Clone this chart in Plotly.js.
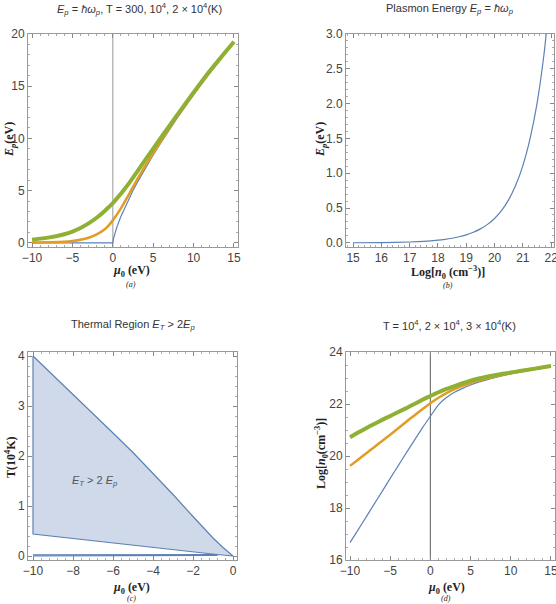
<!DOCTYPE html>
<html>
<head>
<meta charset="utf-8">
<script src="https://cdn.plot.ly/plotly-3.0.1.min.js"></script>
<style>
  html, body { margin: 0; padding: 0; background: #fff; }
  #chart { width: 556px; height: 604px; }
</style>
</head>
<body>
<div id="chart"></div>
<script>
// (a) Ep vs mu0 for three temperatures
const muA = [-10, -8, -6, -5, -4, -3, -2, -1, -0.5, 0, 0.1, 0.25, 0.5, 1, 1.5, 2, 2.5, 3, 4, 5, 6, 7, 8, 10, 12, 15];
const epT300 = [0, 0, 0, 0, 0, 0, 0, 0, 0, 0, 0.45, 0.89, 1.5, 2.52, 3.41, 4.24, 5.01, 5.74, 7.12, 8.42, 9.65, 10.84, 11.98, 14.17, 16.24, 19.2];
const epT1e4 = [0.02, 0.05, 0.1, 0.17, 0.29, 0.48, 0.8, 1.3, 1.68, 2.15, 2.26, 2.42, 2.7, 3.3, 3.97, 4.65, 5.35, 6.05, 7.35, 8.6, 9.8, 10.98, 12.12, 14.3, 16.35, 19.2];
const epT2e4 = [0.3, 0.5, 0.82, 1.08, 1.42, 1.86, 2.4, 3.05, 3.42, 3.8, 3.89, 4.02, 4.25, 4.7, 5.2, 5.7, 6.25, 6.8, 7.92, 9.02, 10.12, 11.2, 12.28, 14.4, 16.45, 19.25];

// (b) Ep vs log n0
const logN = [15, 16, 17, 17.5, 18, 18.25, 18.5, 18.75, 19, 19.25, 19.5, 19.75, 20, 20.25, 20.5, 20.75, 21, 21.25, 21.5, 21.75, 21.85];
const epN = [0.0012, 0.0038, 0.012, 0.021, 0.038, 0.05, 0.066, 0.087, 0.115, 0.152, 0.2, 0.265, 0.35, 0.465, 0.62, 0.83, 1.11, 1.49, 2.0, 2.72, 3.1];

// (c) thermal region boundary
const topMu = [-10, -9, -8, -7, -6, -5, -4, -3, -2, -1.5, -1, -0.5, 0];
const topT = [4.0, 3.62, 3.24, 2.85, 2.46, 2.07, 1.66, 1.23, 0.79, 0.57, 0.36, 0.17, 0];
const lowMu = [-0.8, -10];
const lowT = [0.03, 0.44];
const stripMu = [-10, -0.8, -0.8, -10];
const stripT = [0.0, 0.01, 0.03, 0.025];

// (d) log n0 vs mu0
const muD = [-10, -9, -8, -7, -6, -5, -4, -3, -2, -1, 0, 1, 2, 3, 4, 5, 6, 7, 8, 9, 10, 11, 12, 13, 14, 15];
const logT1e4 = [16.67, 17.16, 17.65, 18.15, 18.64, 19.14, 19.63, 20.12, 20.6, 21.08, 21.53, 21.97, 22.25, 22.45, 22.6, 22.73, 22.84, 22.93, 23.01, 23.09, 23.16, 23.23, 23.29, 23.35, 23.4, 23.45];
const logT2e4 = [19.62, 19.86, 20.1, 20.34, 20.58, 20.82, 21.07, 21.32, 21.56, 21.8, 22.03, 22.24, 22.42, 22.57, 22.7, 22.81, 22.9, 22.98, 23.05, 23.12, 23.18, 23.24, 23.3, 23.35, 23.4, 23.46];
const logT3e4 = [20.72, 20.9, 21.07, 21.23, 21.39, 21.54, 21.69, 21.84, 22.0, 22.16, 22.31, 22.45, 22.58, 22.69, 22.8, 22.9, 22.98, 23.05, 23.11, 23.16, 23.21, 23.26, 23.31, 23.36, 23.41, 23.46];

const BLUE = '#5E81B5', ORANGE = '#E19C24', GREEN = '#8FB032';
const W = 556, H = 604;
const px = v => v / W;
const py = v => 1 - v / H;

const line = (x, y, color, width, xa, ya, shape) => ({
  x, y, xaxis: xa, yaxis: ya, type: 'scatter', mode: 'lines',
  line: { color, width, shape: shape || 'spline', smoothing: 0.5 }, hoverinfo: 'none'
});

const polyMu = topMu.concat(lowMu, [topMu[0]]);
const polyT = topT.concat(lowT, [topT[0]]);

const data = [
  line(muA, epT300, BLUE, 1.2, 'x', 'y', 'linear'),
  line(muA, epT1e4, ORANGE, 2.5, 'x', 'y'),
  line(muA, epT2e4, GREEN, 4, 'x', 'y'),
  line(logN, epN, BLUE, 1.2, 'x2', 'y2'),
  { x: polyMu, y: polyT, xaxis: 'x3', yaxis: 'y3', type: 'scatter', mode: 'lines',
    fill: 'toself', fillcolor: 'rgb(207,217,233)', line: { color: BLUE, width: 1.2 }, hoverinfo: 'none' },
  { x: stripMu, y: stripT, xaxis: 'x3', yaxis: 'y3', type: 'scatter', mode: 'lines',
    fill: 'toself', fillcolor: 'rgb(207,217,233)', line: { color: BLUE, width: 1.2 }, hoverinfo: 'none' },
  line(muD, logT1e4, BLUE, 1.2, 'x4', 'y4'),
  line(muD, logT2e4, ORANGE, 2.5, 'x4', 'y4'),
  line(muD, logT3e4, GREEN, 4, 'x4', 'y4')
];

function ax(domain, range, dtick, minor, anchor, fmt) {
  return {
    domain, range, dtick, anchor, tick0: 0,
    ticks: 'inside', ticklen: 4, tickcolor: '#888', tickwidth: 1,
    showline: true, linecolor: '#999', linewidth: 1, mirror: 'allticks',
    zeroline: false, showgrid: false, tickformat: fmt || '',
    ticklabeloverflow: 'allow',
    tickfont: { family: 'Liberation Sans, Arial, sans-serif', size: 12, color: '#444' },
    minor: { ticks: 'inside', ticklen: 2, dtick: minor, tickcolor: '#aaa', showgrid: false },
    fixedrange: true
  };
}

const titleFont = { family: 'Liberation Sans, Arial, sans-serif', size: 11, color: '#333' };
const axFont = { family: 'Liberation Serif, Times New Roman, serif', size: 12, color: '#222' };
const subFont = { family: 'Liberation Serif, Times New Roman, serif', size: 8, color: '#222' };

function note(text, x, y, font, angle) {
  return { text, x: px(x), y: py(y), xref: 'paper', yref: 'paper', showarrow: false,
    xanchor: 'center', yanchor: 'middle', font, textangle: angle || 0 };
}

const annotations = [
  note('<i>E<sub>p</sub></i> = <i>ħω<sub>p</sub></i>, T = 300, 10<sup>4</sup>, 2 × 10<sup>4</sup>(K)', 139, 9, titleFont),
  note('Plasmon Energy <i>E<sub>p</sub></i> = <i>ħω<sub>p</sub></i>', 450, 9, titleFont),
  note('Thermal Region <i>E<sub>T</sub></i> > 2<i>E<sub>p</sub></i>', 133, 325, titleFont),
  note('T = 10<sup>4</sup>, 2 × 10<sup>4</sup>, 3 × 10<sup>4</sup>(K)', 449, 325, titleFont),
  note('<b><i>μ</i><sub>0</sub> (eV)</b>', 131, 271, axFont),
  note('<i>(a)</i>', 131, 284, subFont),
  note('<b>Log[<i>n</i><sub>0</sub> (cm<sup>−3</sup>)]</b>', 448, 272, axFont),
  note('<i>(b)</i>', 448, 285, subFont),
  note('<b><i>μ</i><sub>0</sub> (eV)</b>', 131, 588, axFont),
  note('<i>(c)</i>', 131, 598, subFont),
  note('<b><i>μ</i><sub>0</sub> (eV)</b>', 446, 588, axFont),
  note('<i>(d)</i>', 446, 598, subFont),
  note('<b><i>E<sub>p</sub></i>(eV)</b>', 10, 140, axFont, -90),
  note('<b><i>E<sub>p</sub></i>(eV)</b>', 321, 140, axFont, -90),
  note('<b>T(10<sup>4</sup>K)</b>', 10, 457, axFont, -90),
  note('<b>Log[<i>n</i><sub>0</sub>(cm<sup>−3</sup>)]</b>', 321, 454, axFont, -90),
  { text: '<i>E<sub>T</sub></i> > 2 <i>E<sub>p</sub></i>', x: -6.9, y: 1.5, xref: 'x3', yref: 'y3',
    showarrow: false, font: { family: 'Liberation Sans, Arial, sans-serif', size: 11, color: '#555' } }
];

const vline = (xa, ya, color) => ({ type: 'line', xref: xa, yref: ya + ' domain', x0: 0, x1: 0, y0: 0, y1: 1,
  line: { color, width: 1.2 }, layer: 'below' });

const layout = {
  width: W, height: H,
  margin: { l: 0, r: 0, t: 0, b: 0 },
  paper_bgcolor: '#fff', plot_bgcolor: '#fff',
  showlegend: false,
  xaxis: ax([px(28), px(238)], [-10.5, 15.5], 5, 1, 'y'),
  yaxis: ax([py(247), py(34)], [-0.4, 20], 5, 1, 'x'),
  xaxis2: ax([px(346), px(554)], [14.75, 22.1], 1, 0.2, 'y2'),
  yaxis2: ax([py(247), py(34)], [-0.06, 3], 0.5, 0.1, 'x2', '.1f'),
  xaxis3: ax([px(28), px(237)], [-10.25, 0.2], 2, 0.4, 'y3'),
  yaxis3: ax([py(560), py(352)], [-0.08, 4.08], 1, 0.2, 'x3'),
  xaxis4: ax([px(346), px(555)], [-10.5, 15.5], 5, 1, 'y4'),
  yaxis4: ax([py(560), py(352)], [16, 24], 2, 0.5, 'x4'),
  annotations,
  shapes: [vline('x', 'y', '#aaa'), vline('x4', 'y4', '#777')]
};

Plotly.newPlot('chart', data, layout, { staticPlot: true, displayModeBar: false });
</script>
</body>
</html>
